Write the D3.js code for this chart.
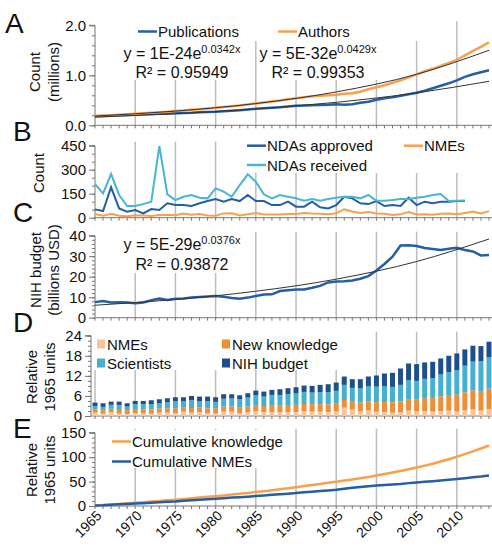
<!DOCTYPE html>
<html><head><meta charset="utf-8">
<script src="https://cdn.jsdelivr.net/npm/d3@7"></script>
<style>
body{margin:0;background:#fff}
svg{display:block}
text{font-family:"Liberation Sans",Arial,Helvetica,sans-serif;fill:#111}
</style>
</head><body>
<svg id="c" width="492" height="548"></svg>
<script>
// ---------- DATA ----------
const years = d3.range(1965, 2015);
const xTickLabels = ["1965","1970","1975","1980","1985","1990","1995","2000","2005","2010"];

// Panel A (millions)
const publications = [0.18,0.185,0.19,0.20,0.205,0.215,0.22,0.225,0.23,0.235,
 0.24,0.245,0.25,0.26,0.265,0.27,0.28,0.29,0.30,0.315,
 0.33,0.34,0.35,0.36,0.375,0.39,0.395,0.40,0.405,0.41,
 0.42,0.41,0.42,0.45,0.47,0.51,0.54,0.56,0.59,0.62,
 0.65,0.69,0.74,0.79,0.84,0.90,0.97,1.02,1.06,1.10];
const authors = [0.185,0.193,0.20,0.21,0.22,0.23,0.24,0.25,0.26,0.27,
 0.285,0.295,0.31,0.32,0.335,0.35,0.365,0.38,0.395,0.415,
 0.435,0.455,0.475,0.495,0.52,0.54,0.56,0.58,0.59,0.60,
 0.61,0.63,0.64,0.67,0.72,0.76,0.80,0.85,0.90,0.96,
 1.02,1.08,1.13,1.19,1.25,1.31,1.40,1.49,1.57,1.66];
const trendYears = [1965,1975,1985,1995,2005,2014];
const pubTrend = [0.165,0.232,0.327,0.46,0.648,0.88];
const authTrend = [0.185,0.284,0.435,0.667,1.02,1.50];

// Panel B (counts)
const bYears = d3.range(1965, 2012);
const ndasApproved = [52,42,190,58,38,48,27,54,48,90,
 79,79,73,90,104,117,100,117,104,142,
 104,104,79,79,100,69,69,100,65,58,
 79,131,121,90,85,104,73,79,73,125,
 79,100,90,100,100,104,104];
const ndasReceived = [210,152,273,142,73,73,85,100,448,146,
 110,131,142,125,121,183,163,131,204,271,
 225,146,121,142,131,121,106,117,106,117,
 125,131,131,121,142,106,106,110,117,117,
 125,131,142,148,104,106,108];
const nmes = [23,12,25,12,9,16,14,11,17,18,
 15,26,19,23,14,12,27,28,14,22,
 30,20,20,20,23,23,30,26,25,22,
 28,53,39,30,35,27,24,17,21,36,
 20,22,18,24,26,21,30,39,27,41];

// Panel C (billions USD)
const nihBudget = [7.6,8.1,7.4,7.5,7.4,7.0,7.4,8.5,9.3,8.7,
 9.2,9.4,9.8,10.1,10.4,10.6,10.2,9.6,9.2,9.8,
 10.6,11.3,11.4,13.0,13.4,13.7,13.8,14.6,15.5,17.2,
 17.6,17.8,18.2,19.0,20.3,23.0,26.2,29.8,35.2,35.3,
 35.0,34.0,33.5,33.0,33.6,34.1,33.0,32.3,30.4,30.6];
const nihTrend = [6.08,8.87,12.9,18.8,27.4,38.4];

// Panel D (relative 1965 units)
const relNMEs = [1.0,0.7,1.1,0.7,0.6,0.9,0.8,0.7,1.0,1.0,
 0.9,1.3,1.0,1.1,0.8,0.8,1.3,1.3,0.8,1.1,
 1.4,1.1,1.1,1.1,1.2,1.2,1.4,1.3,1.3,1.2,
 1.4,2.5,1.9,1.5,1.7,1.3,1.2,1.0,1.1,1.6,
 1.4,1.5,1.3,1.5,1.6,1.4,1.7,2.0,1.6,2.1];
const relKnowledge = [1.0,1.03,1.06,1.11,1.14,1.19,1.22,1.25,1.28,1.31,
 1.33,1.36,1.39,1.44,1.47,1.50,1.56,1.61,1.67,1.75,
 1.83,1.89,1.94,2.0,2.08,2.17,2.19,2.22,2.25,2.28,
 2.33,2.28,2.33,2.5,2.61,2.83,3.0,3.11,3.28,3.44,
 3.61,3.83,4.11,4.39,4.67,5.0,5.39,5.67,5.89,6.11];
const relScientists = [1.0,1.0,1.17,1.5,1.09,1.49,1.51,1.63,1.5,1.85,
 2.16,1.7,2.32,1.93,2.16,1.91,2.3,2.33,2.52,2.66,
 2.98,2.82,3.26,3.19,3.26,3.38,3.61,3.48,3.6,3.67,
 3.82,4.52,4.17,4.25,4.54,4.67,4.75,4.59,4.92,5.66,
 5.49,5.77,5.94,6.51,6.83,7.3,7.96,8.58,8.91,9.39];
const relNIH = [1.0,1.07,0.97,0.99,0.97,0.92,0.97,1.12,1.22,1.14,
 1.21,1.24,1.29,1.33,1.37,1.39,1.34,1.26,1.21,1.29,
 1.39,1.49,1.5,1.71,1.76,1.85,1.9,2.0,2.15,2.35,
 2.45,2.5,2.6,2.75,2.95,3.3,3.75,4.2,4.9,5.0,
 5.0,4.9,4.85,4.8,4.9,5.0,4.85,4.75,4.5,4.6];

// Panel E (relative 1965 units)
const cumKnowledge = [1,2.1,3.2,4.3,5.5,6.7,7.9,9.1,10.4,11.7,
 13.0,14.4,15.8,17.2,18.7,20.2,21.7,23.3,25.0,26.7,
 28.5,30.4,32.3,34.3,36.4,38.6,40.8,43.0,45.2,47.5,
 49.8,52.1,54.4,56.9,59.5,62.3,65.3,68.4,71.7,75.1,
 78.7,82.5,86.6,91.0,95.7,100.7,106.1,111.8,117.7,123.8];
const cumNMEs = [1.0,1.7,2.8,3.5,4.1,5.0,5.8,6.5,7.5,8.5,
 9.4,10.7,11.7,12.8,13.6,14.6,15.9,17.2,18.0,19.1,
 20.5,21.6,22.8,24.0,25.3,26.6,28.0,29.3,30.6,31.8,
 33.2,35.5,37.3,38.8,40.5,42.0,43.2,44.2,45.2,46.8,
 48.2,49.6,50.8,52.2,53.7,55.1,56.8,58.8,60.4,62.6];

// ---------- STYLE ----------
const C = {dark:"#245ea5", orange:"#f8a04c", light:"#45b6d4",
  dNME:"#f9c597", dKnow:"#ef8e38", dSci:"#46b1cc", dNIH:"#1e4f8d",
  grid:"#bdbdbd", axis:"#777", trend:"#333"};

const svg = d3.select("#c");
const x = d3.scaleLinear().domain([1965, 2014]).range([95, 489]);
const xb = d3.scaleBand().domain(years).range([91, 493]).paddingInner(0.38).paddingOuter(0.19);
const gridYears = [1970,1975,1980,1985,1990,1995,2000,2005,2010];

function panel(opts){
  const y = d3.scaleLinear().domain(opts.domain).range(opts.range);
  const g = svg.append("g");
  const ax0 = opts.axisX || 95;
  // gridlines
  const gy = opts.gridYears || gridYears;
  g.selectAll(".grid").data(gy).join("line")
    .attr("x1", d=>opts.gx ? opts.gx(d) : x(d)).attr("x2", d=>opts.gx ? opts.gx(d) : x(d))
    .attr("y1", opts.range[1]-4).attr("y2", opts.range[0])
    .attr("stroke", C.grid).attr("stroke-width", 1.5);
  // white boxes
  (opts.boxes||[]).forEach(b=>g.append("rect").attr("x",b[0]).attr("y",b[1]).attr("width",b[2]).attr("height",b[3]).attr("fill","#fff"));
  // y axis minor
  g.append("g").attr("transform",`translate(${ax0},0)`)
    .call(d3.axisLeft(y).tickValues(d3.range(opts.domain[0], opts.domain[1]+1e-9, opts.minor)).tickSize(3).tickFormat(""))
    .call(s=>{s.select(".domain").remove(); s.selectAll("line").attr("stroke",C.axis);});
  // y axis major
  g.append("g").attr("transform",`translate(${ax0},0)`)
    .call(d3.axisLeft(y).tickValues(opts.ticks).tickSize(6).tickPadding(3).tickFormat(opts.fmt||(d=>d)))
    .call(s=>{s.select(".domain").attr("stroke",C.axis).attr("d",`M-6,${opts.range[1]}H0V${opts.range[0]}`);
      s.selectAll("line").attr("stroke",C.axis);
      s.selectAll("text").attr("font-size",15).attr("fill","#222").style("font-family","'Liberation Sans',Arial,sans-serif");});
  // x axis small ticks
  const xg = g.append("g").attr("transform",`translate(0,${opts.range[0]})`);
  xg.append("line").attr("x1",ax0).attr("x2",492).attr("stroke",C.axis).attr("stroke-width",1);
  xg.selectAll(".xt").data(years).join("line")
    .attr("x1",d=>x(d)).attr("x2",d=>x(d)).attr("y1",0).attr("y2",3).attr("stroke",C.axis);
  // titles
  opts.titles.forEach(t=>{
    g.append("text").attr("transform",`translate(${t[0]},${t[1]}) rotate(-90)`)
      .attr("text-anchor","middle").attr("dominant-baseline","central").attr("font-size",15).text(t[2]);
  });
  // letter
  g.append("text").attr("x",opts.letter[0]).attr("y",opts.letter[1]).attr("font-size",28).text(opts.letter[2]);
  return {g,y};
}

function lineOf(y, xs, curve){
  return d3.line().x((d,i)=>x(xs[i])).y(d=>y(d)).curve(curve||d3.curveLinear);
}
function legendLine(g, x0, yy, color, label){
  g.append("line").attr("x1",x0).attr("x2",x0+19).attr("y1",yy).attr("y2",yy).attr("stroke",color).attr("stroke-width",2.5);
  g.append("text").attr("x",x0+20).attr("y",yy).attr("dominant-baseline","central").attr("font-size",15).text(label);
}
function equation(g, cx, y1, y2, coef, expo, r2){
  const t = g.append("text").attr("x",cx).attr("y",y1).attr("text-anchor","middle").attr("font-size",16);
  t.append("tspan").text(`y = ${coef}e`);
  t.append("tspan").attr("dy",-6).attr("font-size",11).text(expo);
  g.append("text").attr("x",cx).attr("y",y2).attr("text-anchor","middle").attr("font-size",16).text(`R² = ${r2}`);
}

// ---------- PANEL A ----------
{
  const {g,y} = panel({domain:[0,2], range:[125.3,25.3], ticks:[0,1,2], minor:0.2, fmt:d3.format(".1f"),
    boxes:[[120,18,300,23],[120,41,130,39],[260,41,122,39]],
    titles:[[34,72,"Count"],[53,72,"(millions)"]], letter:[5,33,"A"]});
  g.append("path").datum(publications).attr("d",lineOf(y,years)).attr("fill","none").attr("stroke",C.dark).attr("stroke-width",2.5);
  g.append("path").datum(authors).attr("d",lineOf(y,years)).attr("fill","none").attr("stroke",C.orange).attr("stroke-width",2.5);
  g.append("path").datum(pubTrend).attr("d",lineOf(y,trendYears,d3.curveMonotoneX)).attr("fill","none").attr("stroke",C.trend).attr("stroke-width",1);
  g.append("path").datum(authTrend).attr("d",lineOf(y,trendYears,d3.curveMonotoneX)).attr("fill","none").attr("stroke",C.trend).attr("stroke-width",1);
  legendLine(g,138,31.5,C.dark,"Publications");
  legendLine(g,278,31.5,C.orange,"Authors");
  equation(g,182,59,78,"1E-24","0.0342x","0.95949");
  equation(g,318,59,78,"5E-32","0.0429x","0.99353");
}

// ---------- PANEL B ----------
{
  const {g,y} = panel({domain:[0,450], range:[217.7,145.7], ticks:[0,150,300,450], minor:50,
    boxes:[[240,138,252,35]],
    titles:[[38,173,"Count"]], letter:[13,141,"B"]});
  g.append("path").datum(nmes).attr("d",lineOf(y,years)).attr("fill","none").attr("stroke",C.orange).attr("stroke-width",2);
  g.append("path").datum(ndasApproved).attr("d",lineOf(y,bYears)).attr("fill","none").attr("stroke",C.dark).attr("stroke-width",2);
  g.append("path").datum(ndasReceived).attr("d",lineOf(y,bYears)).attr("fill","none").attr("stroke",C.light).attr("stroke-width",2);
  legendLine(g,247,145.7,C.dark,"NDAs approved");
  legendLine(g,404,145.7,C.orange,"NMEs");
  legendLine(g,247,165,C.light,"NDAs received");
}

// ---------- PANEL C ----------
{
  const {g,y} = panel({domain:[0,40], range:[317.7,235.7], ticks:[0,10,20,30,40], minor:2,
    boxes:[[120,232,132,41]],
    titles:[[35,270,"NIH budget"],[53,270,"(billions USD)"]], letter:[13,222,"C"]});
  g.append("path").datum(nihBudget).attr("d",lineOf(y,years)).attr("fill","none").attr("stroke",C.dark).attr("stroke-width",2.5);
  g.append("path").datum(nihTrend).attr("d",lineOf(y,trendYears,d3.curveMonotoneX)).attr("fill","none").attr("stroke",C.trend).attr("stroke-width",1);
  equation(g,182,250,270,"5E-29","0.0376x","0.93872");
}

// ---------- PANEL D ----------
{
  const gx = d=>xb(d)+xb.bandwidth()/2;
  const {g,y} = panel({domain:[0,24], range:[416,335.7], ticks:[0,6,12,18,24], minor:1.5, axisX:91,
    gridYears:[1965,1970,1975,1980,1985,1990,1995,2000,2005,2010], gx,
    boxes:[[93,330,252,40]],
    titles:[[31,377,"Relative"],[49,377,"1965 units"]], letter:[13,332,"D"]});
  const keys = ["nme","know","sci","nih"];
  const rows = years.map((yr,i)=>({year:yr, nme:relNMEs[i], know:relKnowledge[i], sci:relScientists[i], nih:relNIH[i]}));
  const stack = d3.stack().keys(keys)(rows);
  const colors = {nme:C.dNME, know:C.dKnow, sci:C.dSci, nih:C.dNIH};
  g.selectAll(".ser").data(stack).join("g").attr("fill",d=>colors[d.key])
    .selectAll("rect").data(d=>d).join("rect")
    .attr("x",d=>xb(d.data.year)).attr("width",xb.bandwidth())
    .attr("y",d=>y(d[1])).attr("height",d=>y(d[0])-y(d[1]));
  const sw = (sx,sy,c,label)=>{
    g.append("rect").attr("x",sx).attr("y",sy-4.5).attr("width",8).attr("height",9).attr("fill",c);
    g.append("text").attr("x",sx+10).attr("y",sy).attr("dominant-baseline","central").attr("font-size",15).text(label);
  };
  sw(97,344,C.dNME,"NMEs");
  sw(97,363,C.dSci,"Scientists");
  sw(222,344,C.dKnow,"New knowledge");
  sw(222,363,C.dNIH,"NIH budget");
}

// ---------- PANEL E ----------
{
  const {g,y} = panel({domain:[0,150], range:[506,432.7], ticks:[0,50,100,150], minor:10,
    boxes:[[100,430,190,38]],
    titles:[[31,470,"Relative"],[49,470,"1965 units"]], letter:[13,438,"E"]});
  g.append("path").datum(cumKnowledge).attr("d",lineOf(y,years)).attr("fill","none").attr("stroke",C.orange).attr("stroke-width",2.5);
  g.append("path").datum(cumNMEs).attr("d",lineOf(y,years)).attr("fill","none").attr("stroke",C.dark).attr("stroke-width",2.5);
  legendLine(g,112,441.5,C.orange,"Cumulative knowledge");
  legendLine(g,112,461.5,C.dark,"Cumulative NMEs");
  // x labels
  g.selectAll(".xl").data(xTickLabels).join("text")
    .attr("transform",d=>`translate(${x(+d)+4},${513}) rotate(-45)`)
    .attr("text-anchor","end").attr("dominant-baseline","central").attr("font-size",14).text(d=>d);
}
</script>
</body></html>
